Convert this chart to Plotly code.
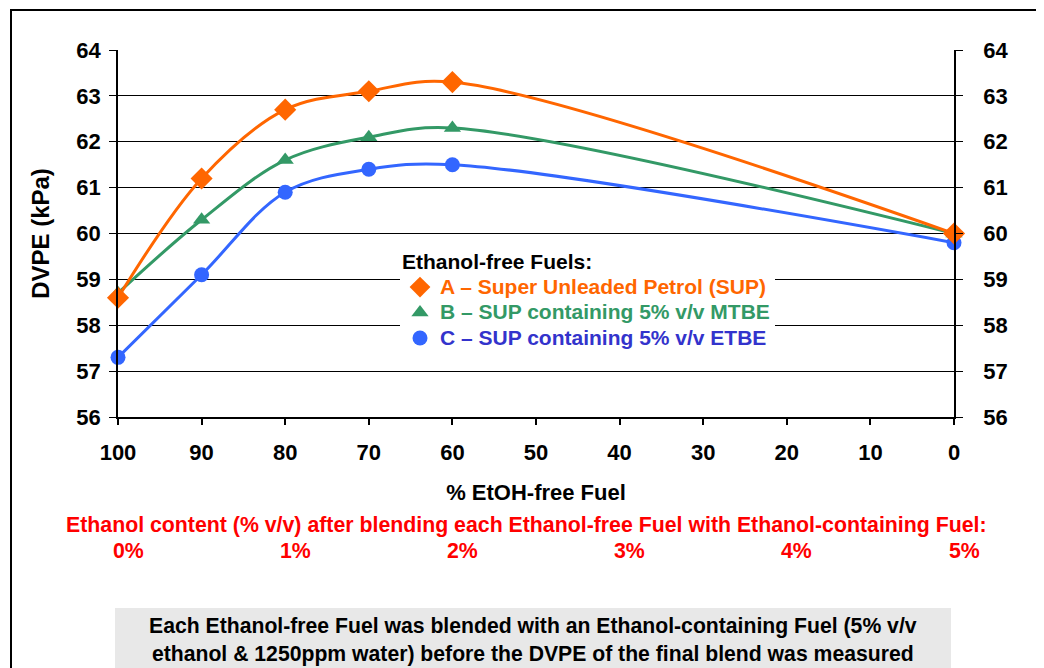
import plotly.graph_objects as go

# ---------------- data ----------------
etoh_free_pct = [100, 90, 80, 70, 60, 0]
sup_a = [58.6, 61.2, 62.7, 63.1, 63.3, 60.0]
mtbe_b = [58.7, 60.3, 61.6, 62.1, 62.3, 60.0]
etbe_c = [57.3, 59.1, 60.9, 61.4, 61.5, 59.8]

series_labels = [
    "A \u2013 Super Unleaded Petrol (SUP)",
    "B \u2013 SUP containing 5% v/v MTBE",
    "C \u2013 SUP containing 5% v/v ETBE",
]
x_tick_vals = [100, 90, 80, 70, 60, 50, 40, 30, 20, 10, 0]
y_tick_vals = [56, 57, 58, 59, 60, 61, 62, 63, 64]
ethanol_labels = ["0%", "1%", "2%", "3%", "4%", "5%"]
ethanol_at_x = [100, 80, 60, 40, 20, 0]

# ---------------- layout geometry (page pixels) ----------------
FONT = "Liberation Sans, Arial, sans-serif"
PAGE_OFF = 8                     # default body margin of the html page
PL, PR, PT, PB = 118, 954, 50, 417   # plot area on the page
FIG_W, FIG_H = 1044 - PAGE_OFF, 668 - PAGE_OFF


def px(xp):
    return (xp - PL) / (PR - PL)


def py(yp):
    return (PB - yp) / (PB - PT)


line_colors = ["#FF6600", "#339966", "#3366FF"]
text_colors = ["#FF6600", "#339966", "#3333CC"]
symbols = ["diamond", "triangle-up", "circle"]
msizes = [17, 15, 15]
series = [sup_a, mtbe_b, etbe_c]

fig = go.Figure()

# smoothed lines through each series
for i in [2, 1, 0]:
    fig.add_trace(go.Scatter(
        x=etoh_free_pct, y=series[i], mode="lines",
        line=dict(color=line_colors[i], width=3, shape="spline", smoothing=1.0),
        showlegend=False, hoverinfo="skip", cliponaxis=False,
    ))

for i in [2, 1, 0]:
    fig.add_trace(go.Scatter(
        x=etoh_free_pct, y=series[i], mode="markers",
        marker=dict(symbol=symbols[i], size=msizes[i], color=line_colors[i]),
        name=(f"<span style='color:{text_colors[i]};font-size:21px'>"
              f"<b>{series_labels[i]}</b></span>"),
        cliponaxis=False, legendrank=i + 1,
    ))

# invisible trace so the right-hand axis is drawn
fig.add_trace(go.Scatter(x=[50], y=[60], yaxis="y2", mode="markers",
                         marker=dict(opacity=0), showlegend=False, hoverinfo="skip"))

tickfont = dict(family=FONT, size=22, color="black", weight="bold")

fig.update_layout(
    width=FIG_W, height=FIG_H,
    margin=dict(l=PL - PAGE_OFF, r=FIG_W - (PR - PAGE_OFF), t=PT - PAGE_OFF,
                b=FIG_H - (PB - PAGE_OFF), autoexpand=False),
    paper_bgcolor="white", plot_bgcolor="white",
    font=dict(family=FONT, color="black", weight="bold"),
    xaxis=dict(
        range=[100, 0], tickvals=x_tick_vals, ticks="outside", ticklen=6,
        tickcolor="black", tickwidth=1.5, showline=True, linecolor="black", linewidth=2,
        showgrid=False, zeroline=False, tickfont=tickfont, ticklabelstandoff=9,
        title=dict(text="<b>% EtOH-free Fuel</b>",
                   font=dict(family=FONT, size=22, weight="bold"), standoff=20),
    ),
    yaxis=dict(
        range=[56, 64], tickvals=y_tick_vals, ticks="outside", ticklen=7,
        tickcolor="black", showline=True, linecolor="black", linewidth=1.5,
        showgrid=True, gridcolor="black", gridwidth=1.2, zeroline=False,
        tickfont=tickfont, ticklabelstandoff=4,
        title=dict(text="<b>DVPE (kPa)</b>",
                   font=dict(family=FONT, size=24, weight="bold"), standoff=20),
    ),
    yaxis2=dict(
        range=[56, 64], tickvals=y_tick_vals, overlaying="y", side="right",
        ticks="outside", ticklen=7, tickcolor="black", showline=True,
        linecolor="black", linewidth=1.5, showgrid=False, zeroline=False,
        tickfont=tickfont, ticklabelstandoff=16,
    ),
    legend=dict(
        x=px(400), y=py(242), xanchor="left", yanchor="top",
        bgcolor="white", borderwidth=0,
        font=dict(family=FONT, size=17.3, weight="bold"),
        title=dict(text="<b>Ethanol-free Fuels:</b>",
                   font=dict(family=FONT, size=21, color="black", weight="bold")),
        itemwidth=30, tracegroupgap=0,
    ),
    showlegend=True,
)

red_font = dict(family=FONT, size=21.3, color="#FF0000", weight="bold")
fig.add_annotation(
    text="<b>Ethanol content (% v/v) after blending each Ethanol-free Fuel with Ethanol-containing Fuel:</b>",
    xref="paper", yref="paper", x=px(526), y=py(525),
    xanchor="center", yanchor="middle", showarrow=False, font=red_font,
)
for lbl, xv in zip(ethanol_labels, ethanol_at_x):
    fig.add_annotation(
        text=f"<b>{lbl}</b>", x=xv, xref="x", yref="paper", y=py(551), xshift=10,
        xanchor="center", yanchor="middle", showarrow=False, font=red_font,
    )

# grey note box
fig.add_shape(type="rect", xref="paper", yref="paper",
              x0=px(115), x1=px(951), y0=py(690), y1=py(608),
              fillcolor="#E8E8E8", line=dict(width=0), layer="below")
fig.add_annotation(
    text="<b>Each Ethanol-free Fuel was blended with an Ethanol-containing Fuel (5% v/v<br>"
         "ethanol &amp; 1250ppm water) before the DVPE of the final blend was measured</b>",
    xref="paper", yref="paper", x=px(533), y=py(640),
    xanchor="center", yanchor="middle", showarrow=False, align="center",
    font=dict(family=FONT, size=21.2, color="black", weight="bold"),
)

# outer frame
fig.add_shape(type="rect", xref="paper", yref="paper",
              x0=px(11), x1=px(1042), y0=py(720), y1=py(10),
              line=dict(color="black", width=2), fillcolor="rgba(0,0,0,0)")

fig.write_html("out.html")
